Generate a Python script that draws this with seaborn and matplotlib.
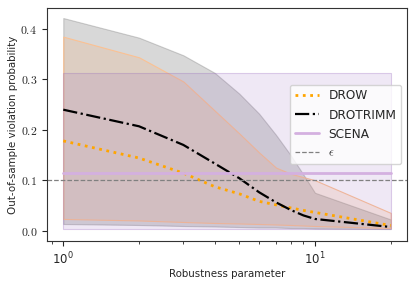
import numpy as np
import pandas as pd
import matplotlib
matplotlib.use("Agg")
import matplotlib.pyplot as plt
import seaborn as sns
from matplotlib.ticker import FuncFormatter

# robustness parameter values
rob = [1, 2, 3, 4, 5, 6, 7, 8, 9, 10, 20]

# DROW: mean and band
drow_mean = [0.178, 0.144, 0.114, 0.087, 0.073, 0.058, 0.051, 0.045, 0.040, 0.036, 0.010]
drow_low = [0.023, 0.020, 0.017, 0.015, 0.014, 0.013, 0.012, 0.011, 0.010, 0.009, 0.005]
drow_high = [0.385, 0.344, 0.296, 0.238, 0.193, 0.155, 0.125, 0.113, 0.106, 0.100, 0.035]

# DROTRIMM: mean and band
trimm_mean = [0.240, 0.207, 0.170, 0.133, 0.104, 0.076, 0.056, 0.041, 0.030, 0.023, 0.007]
trimm_low = [0.013, 0.011, 0.009, 0.008, 0.007, 0.006, 0.006, 0.005, 0.005, 0.004, 0.003]
trimm_high = [0.422, 0.383, 0.348, 0.313, 0.272, 0.232, 0.190, 0.150, 0.111, 0.075, 0.022]

# SCENA: constant over the parameter
scena_mean = 0.114
scena_low = 0.003
scena_high = 0.313

epsilon = 0.1

df = pd.DataFrame({
    "rob": rob,
    "drow": drow_mean,
    "trimm": trimm_mean,
    "scena": [scena_mean] * len(rob),
})

sns.set_style("ticks")
plt.rcParams["mathtext.fontset"] = "cm"
plt.rcParams["font.family"] = ["DejaVu Sans"]

fig, ax = plt.subplots(figsize=(4.15, 2.84), dpi=100)
fig.subplots_adjust(left=0.113, right=0.981, bottom=0.151, top=0.972)

# bands
ax.fill_between(rob, trimm_low, trimm_high,
                color="gray", alpha=0.3, edgecolor="dimgray", linewidth=0.8)
ax.fill_between(rob, drow_low, drow_high,
                facecolor=(0.957, 0.643, 0.376, 0.18),
                edgecolor=(1.0, 0.75, 0.55, 0.9), linewidth=0.8)
ax.fill_between(rob, [scena_low] * len(rob), [scena_high] * len(rob),
                facecolor=(0.58, 0.40, 0.74, 0.15),
                edgecolor=(0.58, 0.40, 0.74, 0.3), linewidth=0.8)

sns.lineplot(data=df, x="rob", y="drow", ax=ax, color="orange",
             linestyle=":", linewidth=2, label="DROW")
sns.lineplot(data=df, x="rob", y="trimm", ax=ax, color="black",
             linestyle="-.", linewidth=1.6, label="DROTRIMM")
sns.lineplot(data=df, x="rob", y="scena", ax=ax, color="#d4b0e0",
             linewidth=2, label="SCENA")
ax.axhline(epsilon, color="gray", linestyle="--", linewidth=0.9, label=r"$\epsilon$")

ax.set_xscale("log")
ax.set_ylim(-0.021, 0.442)
ax.yaxis.set_major_formatter(FuncFormatter(lambda v, p: r"$%.1f$" % v))
ax.set_yticks([0.0, 0.1, 0.2, 0.3, 0.4])
ax.tick_params(labelsize=8.5)

ax.set_xlabel("Robustness parameter", fontsize=7.4, labelpad=1)
ax.set_ylabel("Out-of-sample violation probability", fontsize=7.4, labelpad=2)

for s in ax.spines.values():
    s.set_color("0.2")

ax.legend(loc="center right", fontsize=8.7, framealpha=0.8)

fig.savefig("out.png", dpi=100)
